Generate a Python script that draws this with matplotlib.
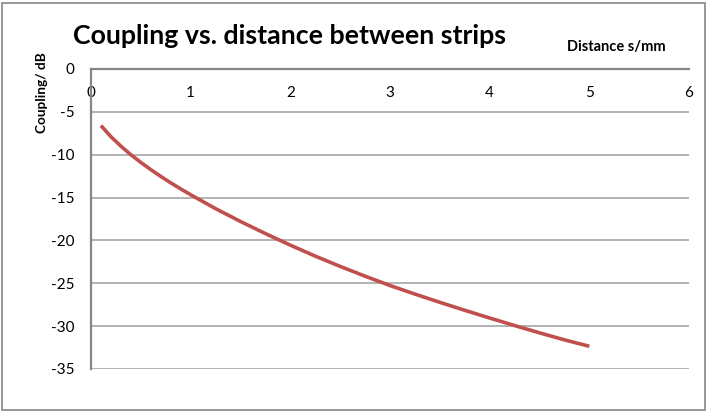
import matplotlib
matplotlib.use("Agg")
import matplotlib.pyplot as plt
from matplotlib.patches import Rectangle

distance_mm = [0.1, 0.2, 0.3, 0.4, 0.5, 0.6, 0.7, 0.8, 0.9, 1.0, 1.25, 1.5, 1.75,
               2.0, 2.25, 2.5, 2.75, 3.0, 3.25, 3.5, 3.75, 4.0, 4.25, 4.5, 4.75, 5.0]
coupling_db = [-6.6, -7.9, -9.0, -10.0, -10.9, -11.74, -12.53, -13.28, -13.99, -14.67, -16.29,
               -17.79, -19.2, -20.55, -21.83, -23.03, -24.17, -25.26, -26.26, -27.22, -28.15,
               -29.05, -29.93, -30.78, -31.6, -32.35]
x_ticks = [0, 1, 2, 3, 4, 5, 6]
y_ticks = [0, -5, -10, -15, -20, -25, -30, -35]

plt.rcParams['font.family'] = ['Lato', 'DejaVu Sans']

W, H = 708, 413
fig = plt.figure(figsize=(W / 100, H / 100), dpi=100)
fig.patch.set_facecolor('white')
ax = fig.add_axes([91 / W, 1 - 369 / H, (689 - 91) / W, (369 - 69) / H])

ax.plot(distance_mm, coupling_db, color='#C0504D', linewidth=2.6, solid_capstyle='butt',
        solid_joinstyle='round')

ax.set_xlim(0, 6)
ax.set_ylim(-35, 0)
ax.set_xticks(x_ticks)
ax.set_yticks(y_ticks)
ax.set_xticklabels([str(v) for v in x_ticks])
ax.set_yticklabels([str(v) for v in y_ticks])

for y in y_ticks[1:]:
    ax.axhline(y, color='#A6A6A6', linewidth=1.2, zorder=0)

for s in ['right', 'bottom']:
    ax.spines[s].set_visible(False)
for s in ['left', 'top']:
    ax.spines[s].set_color('#868686')
    ax.spines[s].set_linewidth(1.6)

ax.tick_params(axis='x', which='both', top=False, bottom=False, labeltop=True, labelbottom=False,
               length=0, pad=-22, labelsize=11, colors='black')
ax.tick_params(axis='y', which='both', left=False, length=0, pad=12, labelsize=11, colors='black')

fig.text(73 / W, 1 - 44 / H, 'Coupling vs. distance between strips', fontsize=19.3,
         fontweight='bold', ha='left', va='baseline')
fig.text(42 / W, 1 - 93 / H, 'Coupling/ dB', rotation=90, fontsize=9.8,
         fontweight='bold', ha='center', va='center')
fig.text(567 / W, 1 - 47 / H, 'Distance s/mm', fontsize=10.5, fontweight='bold',
         ha='left', va='center')

fig.patches.append(Rectangle((2 / W, 3 / H), (705 - 2) / W, (410 - 3) / H, transform=fig.transFigure,
                             fill=False, edgecolor='#868686', linewidth=1.2))

fig.savefig('out.png', dpi=100)
